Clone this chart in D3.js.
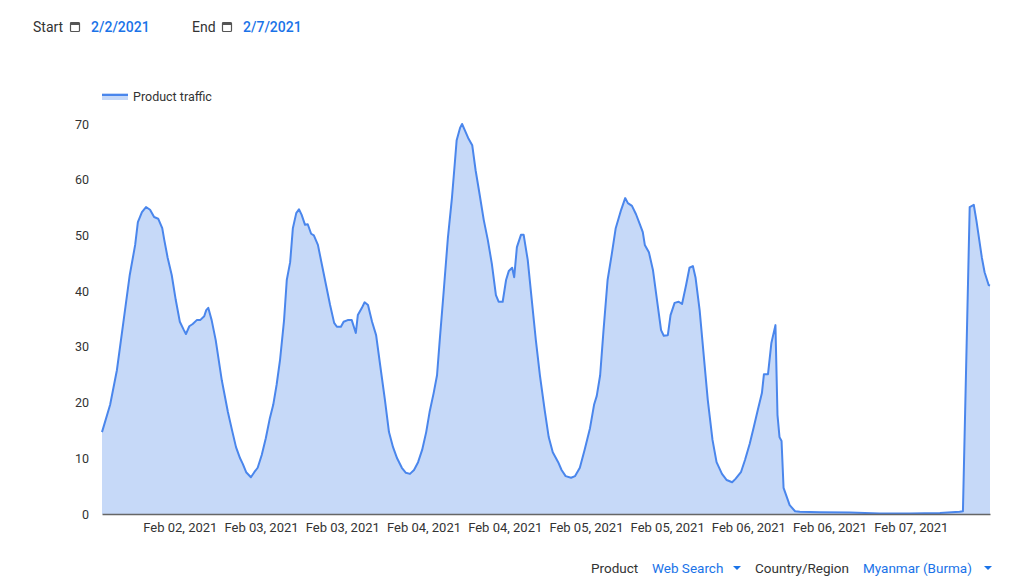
<!DOCTYPE html>
<html><head><meta charset="utf-8">
<script src="https://cdn.jsdelivr.net/npm/d3@7"></script>
<style>body{margin:0;background:#fff;font-family:Roboto,"Noto Sans",sans-serif}</style>
</head><body><svg id="c" width="1024" height="584"></svg>
<script>
const hours=[0,1.2,2.2,3.2,4.1,4.9,5.3,5.9,6.5,7.1,7.7,8.3,8.9,9.2,9.7,10.3,10.9,11.5,12.1,12.4,12.9,13.4,14.0,14.5,15.1,15.4,15.7,16.2,16.8,17.7,18.6,19.2,19.8,20.4,20.8,21.3,22.0,22.5,23.0,23.6,24.2,24.8,25.3,25.8,26.3,26.9,27.3,27.8,28.2,28.7,29.1,29.5,30.0,30.4,30.9,31.3,31.9,32.5,33.1,33.7,34.3,34.7,35.3,35.7,36.3,36.9,37.5,37.8,38.4,38.8,39.3,39.9,40.5,41.1,41.8,42.4,43.0,43.6,44.3,44.9,45.5,46.1,46.7,47.3,47.9,48.4,49.0,49.5,49.9,50.5,51.1,51.7,52.1,52.4,52.9,53.2,53.6,54.1,54.7,55.2,55.8,56.4,57.0,57.6,58.2,58.6,59.2,59.7,60.1,60.6,60.9,61.3,61.9,62.3,62.9,63.5,64.1,64.7,65.4,66.0,66.6,67.4,67.9,68.5,69.3,69.9,70.6,71.3,72.1,72.7,73.1,73.6,74.1,74.7,75.3,75.9,76.7,77.3,77.7,78.3,78.9,79.5,79.9,80.2,80.8,81.4,82.0,82.6,83.0,83.6,84.0,84.6,85.2,85.7,86.3,86.8,87.3,87.7,88.3,88.9,89.5,90.2,90.8,91.6,92.3,93.1,93.6,94.4,95.0,95.7,96.3,96.9,97.5,97.8,98.4,98.9,99.5,99.8,100.1,100.4,100.7,101.6,102.4,103.1,106.1,110.5,114.9,119.3,123.8,126.7,127.2,128.2,128.8,129.2,130.0,130.4,131.0,131.2];
const traffic=[14.7,19.6,25.8,34.8,42.9,48.3,52.4,54.2,55.1,54.6,53.3,53,51.3,49.2,46,42.9,38.4,34.5,33,32.3,33.7,34.1,34.8,34.8,35.5,36.6,37,34.8,31.2,24,18.3,15.1,12,10,9,7.5,6.6,7.5,8.3,10.6,13.6,17.2,19.6,23.2,27.6,34.8,42,45.2,51.3,54,54.7,53.7,51.9,52,50.3,50,48.3,44.7,41.1,37.5,34.3,33.6,33.6,34.5,34.8,34.8,32.5,35.7,37,38,37.5,34.5,32.1,26.7,20.5,14.7,12,10,8.3,7.4,7.2,7.9,9.3,11.5,14.7,18.3,21.7,24.9,31.2,40.2,49.5,56.7,62.6,67.1,69.3,70,68.9,67.5,66.2,61.7,57.3,52.8,49.2,44.9,39.3,38.1,38.1,42,43.6,44.2,42.5,47.9,50.1,50.1,45.6,38.4,31.2,24.9,18.7,13.8,11.1,9.3,7.9,6.8,6.5,6.8,8.3,11.5,15.4,19.6,21.2,24.9,33,42,46.5,51.3,54.6,56.7,55.8,55.3,53.8,51.9,50.6,48.3,47,43.8,38.4,33,32,32.1,35.7,37.9,38.1,37.7,41.1,44.2,44.5,42.4,36.6,28.5,20.5,13.3,9.3,7.2,6.1,5.7,6.3,7.5,9.7,12.6,15.6,18.7,21.7,25.1,25.1,30.7,33.9,17.8,13.8,13.1,4.7,1.6,0.5,0.4,0.3,0.25,0.1,0.1,0.2,0.4,0.5,55.1,55.5,52.6,46,43.4,41.1,41];
const tickHours=[11.5,23.5,35.5,47.5,59.5,71.5,83.5,95.5,107.5,119.5];
const tickLabels=["Feb 02, 2021","Feb 03, 2021","Feb 03, 2021","Feb 04, 2021","Feb 04, 2021","Feb 05, 2021","Feb 05, 2021","Feb 06, 2021","Feb 06, 2021","Feb 07, 2021"];
const yTicks=[0,10,20,30,40,50,60,70];

const svg=d3.select("#c");
const x=d3.scaleLinear().domain([0,131.2]).range([102,990]);
const y=d3.scaleLinear().domain([0,70]).range([514,124]);
const pts=hours.map((h,i)=>[h,traffic[i]]);
svg.append("path").datum(pts).attr("fill","#c6d9f8")
 .attr("d",d3.area().x(d=>x(d[0])).y0(y(0)).y1(d=>y(d[1])));
svg.append("path").datum(pts).attr("fill","none").attr("stroke","#4a86ec").attr("stroke-width",2).attr("stroke-linejoin","round")
 .attr("d",d3.line().x(d=>x(d[0])).y(d=>y(d[1])));
const xa=svg.append("g").attr("transform","translate(0,514)")
 .call(d3.axisBottom(x).tickValues(tickHours).tickFormat((d,i)=>tickLabels[i]).tickSize(0).tickPadding(9));
xa.select(".domain").attr("stroke","#666").attr("stroke-width",1.5);
xa.selectAll("text").attr("font-size",13).attr("fill","#333").attr("font-family","Roboto, sans-serif");
const ya=svg.append("g").attr("transform","translate(89,0)")
 .call(d3.axisLeft(y).tickValues(yTicks).tickSize(0).tickPadding(0));
ya.select(".domain").remove();
ya.selectAll("text").attr("font-size",12.5).attr("fill","#333").attr("font-family","Roboto, sans-serif");
svg.append("rect").attr("x",102).attr("y",93).attr("width",26).attr("height",7).attr("fill","#c6d9f8");
svg.append("line").attr("x1",102).attr("x2",128).attr("y1",95).attr("y2",95).attr("stroke","#4a86ec").attr("stroke-width",2);
svg.append("text").attr("x",133).attr("y",101).attr("font-size",12.5).attr("fill","#333").text("Product traffic");
function cal(xp,yp){const g=svg.append("g").attr("transform",`translate(${xp},${yp})`);
 g.append("rect").attr("x",0.5).attr("y",1.5).attr("width",9).attr("height",9).attr("rx",1).attr("fill","none").attr("stroke","#555").attr("stroke-width",1.2);
 g.append("rect").attr("x",0.5).attr("y",1.5).attr("width",9).attr("height",2.5).attr("fill","#555");}
const hdr=[["Start",33,"#333"],["2/2/2021",91,"#1a73e8"],["End",192,"#333"],["2/7/2021",243,"#1a73e8"]];
hdr.forEach(([t,xp,c])=>svg.append("text").attr("x",xp).attr("y",32).attr("font-size",14).attr("fill",c).attr("font-weight",c=="#333"?400:500).text(t));
cal(70,21);cal(222,21);
const ft=[["Product",591,"#333"],["Web Search",652,"#1a73e8"],["Country/Region",755,"#333"],["Myanmar (Burma)",863,"#1a73e8"]];
ft.forEach(([t,xp,c])=>svg.append("text").attr("x",xp).attr("y",573).attr("font-size",13.5).attr("fill",c).text(t));
[[733,568],[984,568]].forEach(([a,b])=>svg.append("path").attr("d",`M${a},${b-2}l4,4l4,-4z`).attr("fill","#1a73e8"));
</script></body></html>
